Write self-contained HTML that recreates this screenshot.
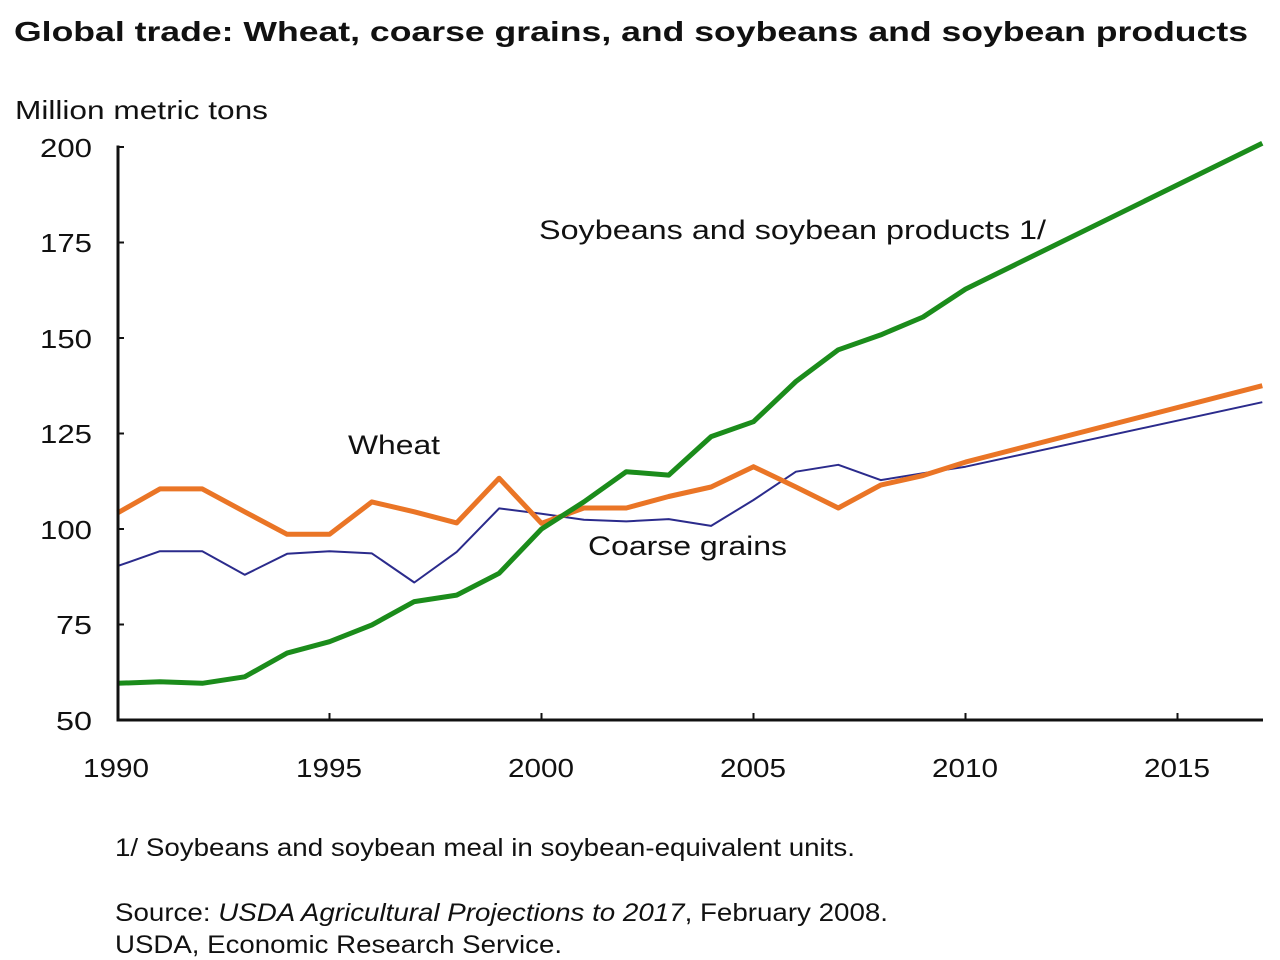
<!DOCTYPE html>
<html>
<head>
<meta charset="utf-8">
<style>
  html, body { margin: 0; padding: 0; background: #ffffff; }
  svg { display: block; }
  text { font-family: "Liberation Sans", Arial, sans-serif; fill: #111; }
</style>
</head>
<body>
<svg width="1280" height="960" viewBox="0 0 1280 960" xmlns="http://www.w3.org/2000/svg">
  <rect x="0" y="0" width="1280" height="960" fill="#ffffff"/>

  <!-- Title -->
  <text x="14" y="41" font-size="28" font-weight="bold" textLength="1234" lengthAdjust="spacingAndGlyphs">Global trade: Wheat, coarse grains, and soybeans and soybean products</text>

  <!-- Y axis title -->
  <text x="15" y="119" font-size="26" textLength="253" lengthAdjust="spacingAndGlyphs">Million metric tons</text>

  <!-- Y tick labels -->
  <g font-size="26" text-anchor="end">
    <text x="92" y="157" textLength="52" lengthAdjust="spacingAndGlyphs">200</text>
    <text x="92" y="252" textLength="52" lengthAdjust="spacingAndGlyphs">175</text>
    <text x="92" y="348" textLength="52" lengthAdjust="spacingAndGlyphs">150</text>
    <text x="92" y="443" textLength="52" lengthAdjust="spacingAndGlyphs">125</text>
    <text x="92" y="539" textLength="52" lengthAdjust="spacingAndGlyphs">100</text>
    <text x="92" y="634" textLength="36" lengthAdjust="spacingAndGlyphs">75</text>
    <text x="92" y="730" textLength="36" lengthAdjust="spacingAndGlyphs">50</text>
  </g>

  <!-- X tick labels -->
  <g font-size="26" text-anchor="middle">
    <text x="116" y="777" textLength="66" lengthAdjust="spacingAndGlyphs">1990</text>
    <text x="329" y="777" textLength="66" lengthAdjust="spacingAndGlyphs">1995</text>
    <text x="541" y="777" textLength="66" lengthAdjust="spacingAndGlyphs">2000</text>
    <text x="753" y="777" textLength="66" lengthAdjust="spacingAndGlyphs">2005</text>
    <text x="965" y="777" textLength="66" lengthAdjust="spacingAndGlyphs">2010</text>
    <text x="1177" y="777" textLength="66" lengthAdjust="spacingAndGlyphs">2015</text>
  </g>

  <!-- Series -->
  <!-- Coarse grains (blue, thin) -->
  <polyline fill="none" stroke="#2b2b8c" stroke-width="2" stroke-linejoin="round"
    points="117.5,566.1 159.9,551.2 202.3,551.2 244.7,574.8 287.1,553.8 329.5,551.2 371.9,553.4 414.3,582.5 456.7,551.9 499.1,508.4 541.5,513.7 583.9,519.8 626.3,521.4 668.7,519.1 711.1,525.9 753.5,500.0 795.9,471.7 838.3,464.8 880.7,480.1 923.1,473.2 965.5,466.7 1262.3,402.2"/>

  <!-- Wheat (orange) -->
  <polyline fill="none" stroke="#ea7526" stroke-width="5" stroke-linejoin="round"
    points="117.5,513.0 159.9,488.9 202.3,488.9 244.7,511.8 287.1,534.3 329.5,534.3 371.9,501.9 414.3,511.8 456.7,522.9 499.1,478.2 541.5,523.3 583.9,508.0 626.3,508.0 668.7,496.5 711.1,487.0 753.5,466.7 795.9,487.0 838.3,508.0 880.7,485.1 923.1,475.5 965.5,462.1 1262.3,385.7"/>

  <!-- Soybeans (green) -->
  <polyline fill="none" stroke="#1b8c1b" stroke-width="5" stroke-linejoin="round"
    points="117.5,683.3 159.9,681.8 202.3,683.3 244.7,676.8 287.1,653.1 329.5,641.7 371.9,624.9 414.3,601.6 456.7,595.1 499.1,573.3 541.5,529.0 583.9,501.9 626.3,471.7 668.7,475.1 711.1,436.6 753.5,421.7 795.9,381.5 838.3,349.8 880.7,334.9 923.1,317.0 965.5,289.1 1262.3,143.2"/>

  <!-- Axes -->
  <g stroke="#111" stroke-width="3" fill="none">
    <line x1="118" y1="145.5" x2="118" y2="721.5"/>
    <line x1="116.5" y1="720" x2="1263" y2="720"/>
  </g>
  <!-- Y ticks (inward) -->
  <g stroke="#111" stroke-width="2">
    <line x1="118" y1="147" x2="124" y2="147"/>
    <line x1="118" y1="242.5" x2="124" y2="242.5"/>
    <line x1="118" y1="338" x2="124" y2="338"/>
    <line x1="118" y1="433.5" x2="124" y2="433.5"/>
    <line x1="118" y1="529" x2="124" y2="529"/>
    <line x1="118" y1="624.5" x2="124" y2="624.5"/>
  </g>
  <!-- X ticks (inward/up) -->
  <g stroke="#111" stroke-width="2">
    <line x1="329.5" y1="720" x2="329.5" y2="713"/>
    <line x1="541.5" y1="720" x2="541.5" y2="713"/>
    <line x1="753.5" y1="720" x2="753.5" y2="713"/>
    <line x1="965.5" y1="720" x2="965.5" y2="713"/>
    <line x1="1177.5" y1="720" x2="1177.5" y2="713"/>
  </g>

  <!-- Series labels -->
  <text x="539" y="239" font-size="27" textLength="507" lengthAdjust="spacingAndGlyphs">Soybeans and soybean products 1/</text>
  <text x="348" y="454" font-size="27" textLength="92" lengthAdjust="spacingAndGlyphs">Wheat</text>
  <text x="588" y="555" font-size="27" textLength="199" lengthAdjust="spacingAndGlyphs">Coarse grains</text>

  <!-- Footnotes -->
  <text x="115" y="856" font-size="25" textLength="740" lengthAdjust="spacingAndGlyphs">1/ Soybeans and soybean meal in soybean-equivalent units.</text>
  <text x="115" y="921" font-size="25" textLength="773" lengthAdjust="spacingAndGlyphs">Source: <tspan font-style="italic">USDA Agricultural Projections to 2017</tspan>, February 2008.</text>
  <text x="115" y="953" font-size="25" textLength="447" lengthAdjust="spacingAndGlyphs">USDA, Economic Research Service.</text>
</svg>
</body>
</html>
